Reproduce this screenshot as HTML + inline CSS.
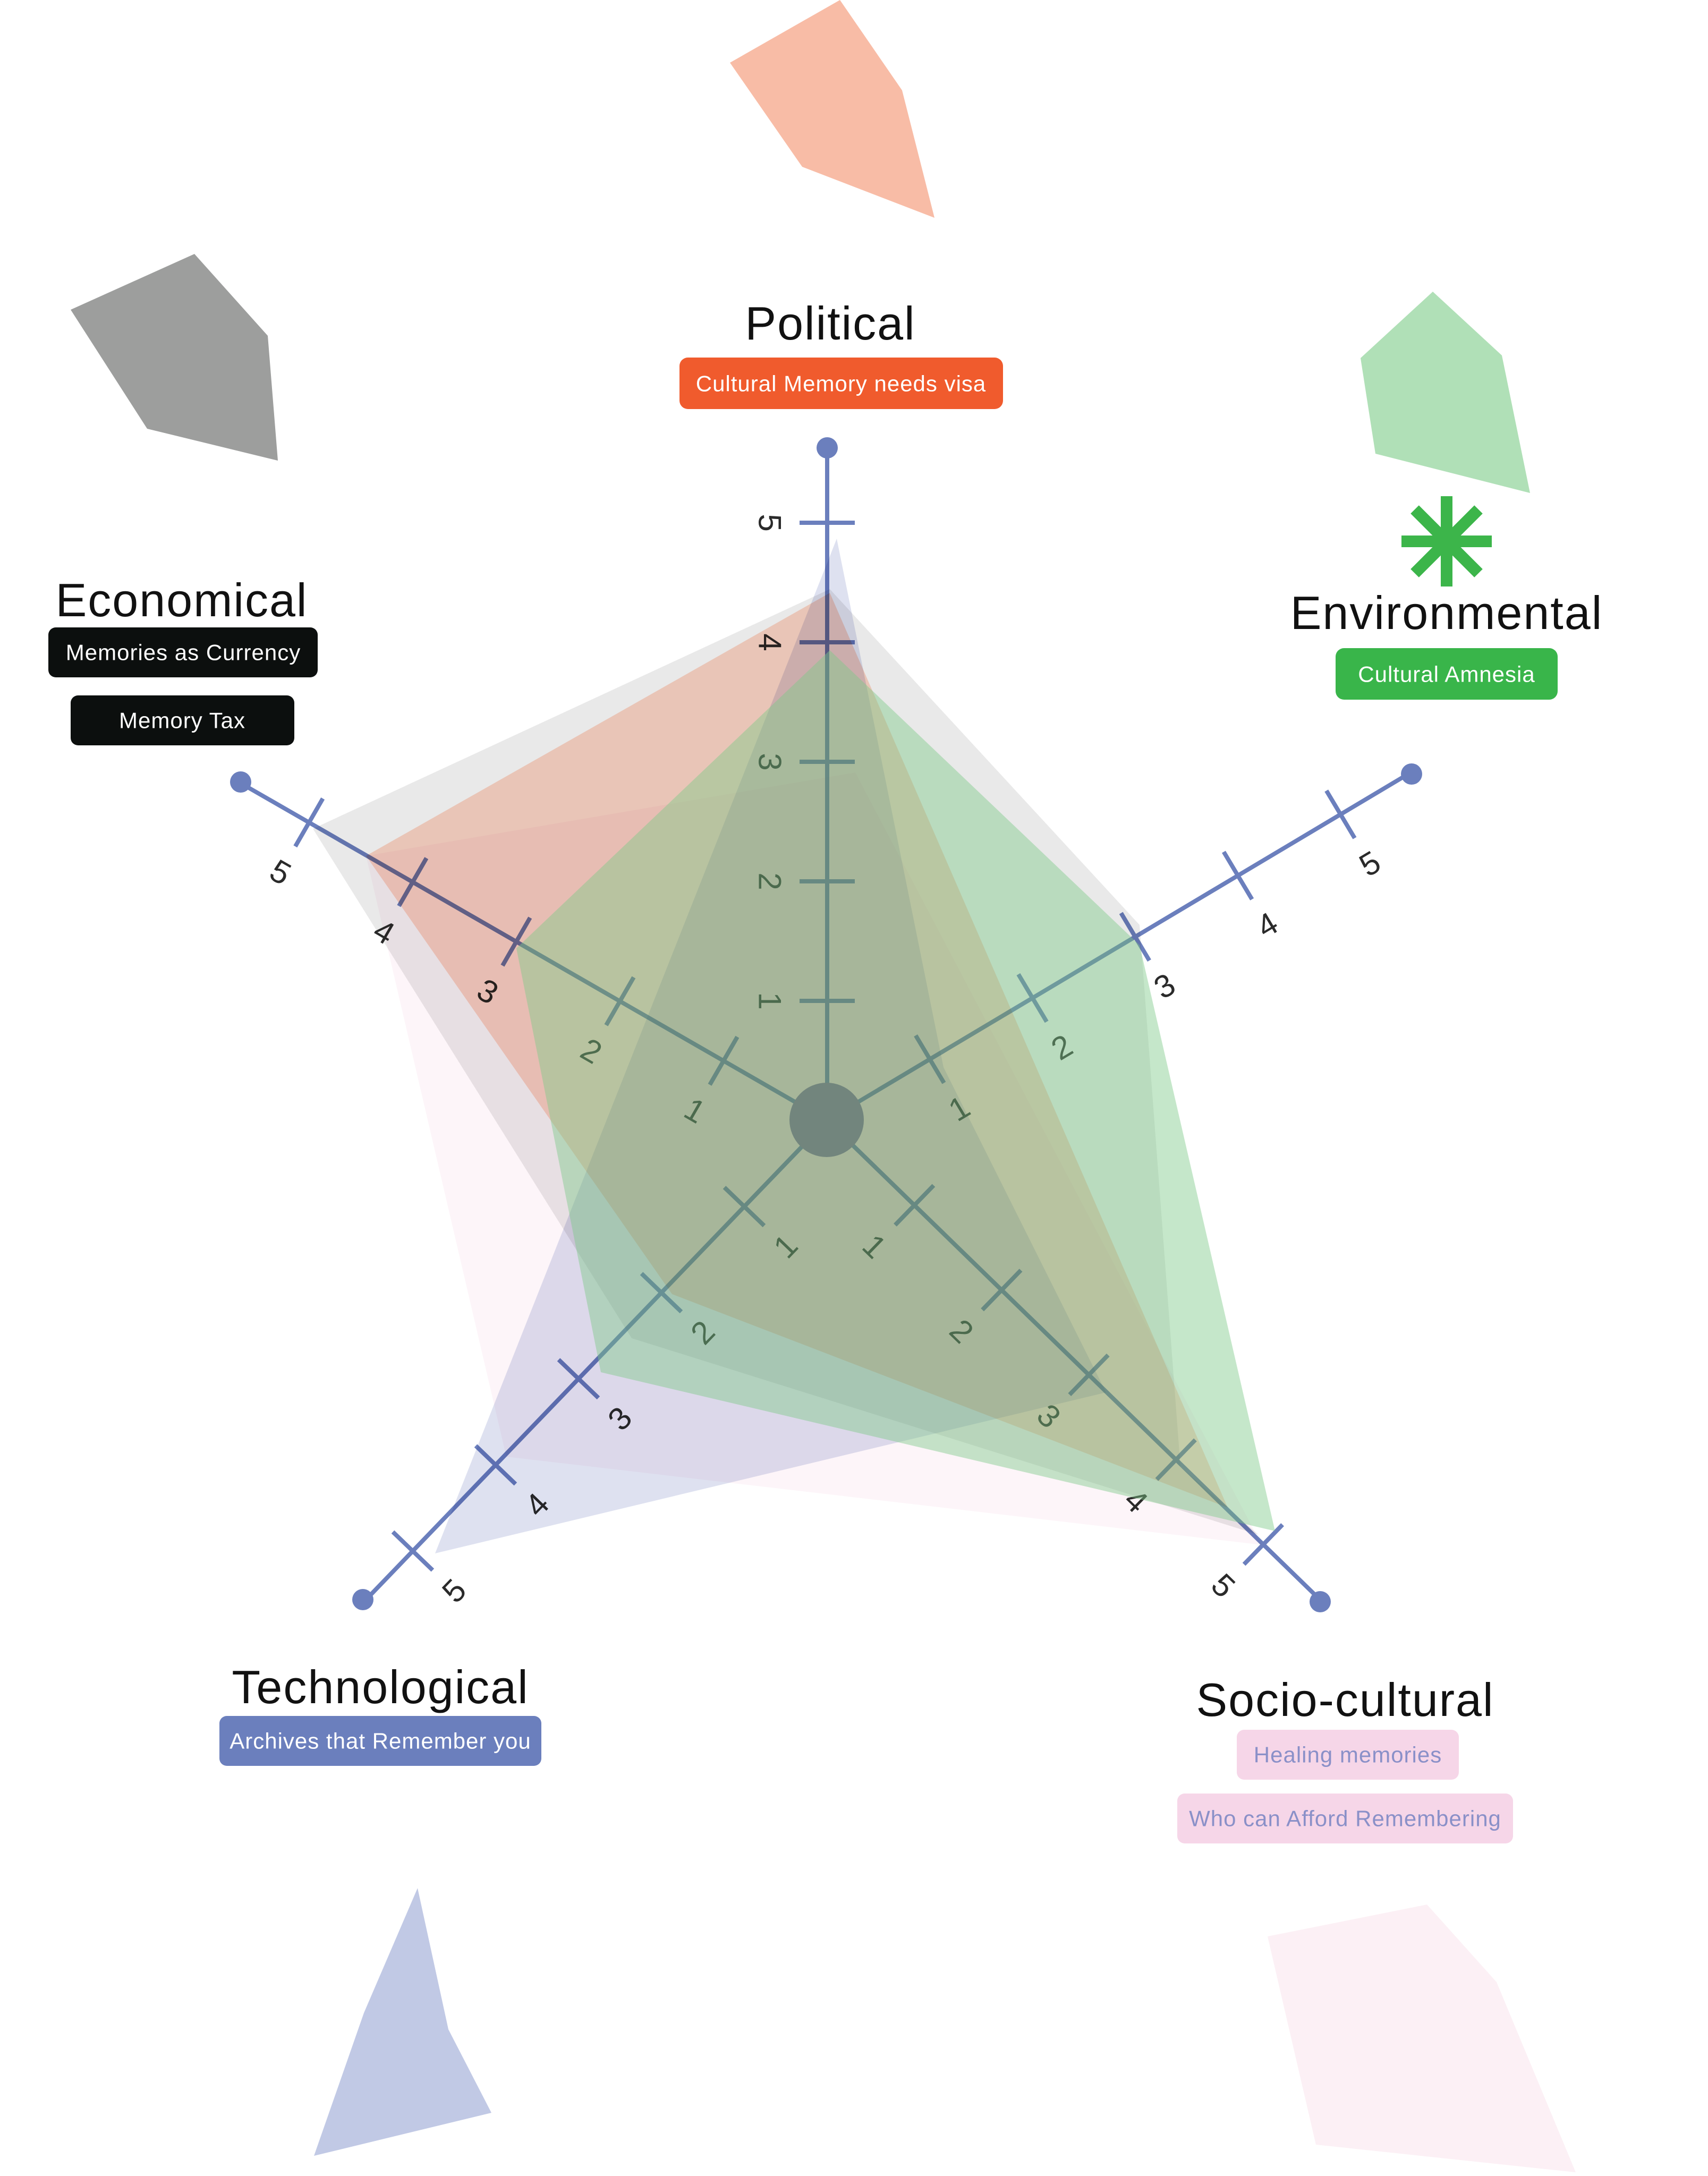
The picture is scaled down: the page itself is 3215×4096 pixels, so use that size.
<!DOCTYPE html>
<html><head><meta charset="utf-8"><style>
html,body{margin:0;padding:0;background:#fff}
svg{display:block}
.t{font-family:"Liberation Sans",sans-serif;fill:#111}
.n{font-family:"Liberation Sans",sans-serif;font-size:60px;fill:#2a2a2a;text-anchor:middle;dominant-baseline:central}
.b{font-family:"Liberation Sans",sans-serif;font-size:42px;fill:#fff;text-anchor:middle;dominant-baseline:central;letter-spacing:1px}
.p{mix-blend-mode:multiply}
</style></head><body>
<svg width="3215" height="4096" viewBox="0 0 3215 4096" xmlns="http://www.w3.org/2000/svg">
<polygon points="1374,118 1581,0 1698,170 1759,410 1510,314" fill="#f8bca6"/>
<polygon points="133,583 366,478 504,632 523,867 277,807" fill="#9d9e9d"/>
<polygon points="2561,674 2697,549 2827,669 2880,928 2589,854" fill="#b0e0b7"/>
<polygon points="786,3554 844,3820 925,3977 591,4058 685,3789" fill="#c1c9e5"/>
<polygon points="2386,3645 2686,3585 2817,3731 2966,4089 2477,4037" fill="#fcf0f5"/>
<g stroke="#3cb54a" stroke-width="22" transform="translate(2723,1019)">
<line x1="0" y1="-85" x2="0" y2="85"/>
<line x1="-85" y1="0" x2="85" y2="0"/>
<line x1="-60" y1="-60" x2="60" y2="60"/>
<line x1="60" y1="-60" x2="-60" y2="60"/>
</g>
<g stroke="#6b7fbd" stroke-width="8" fill="none">
<g transform="translate(1557,2109) rotate(-90)">
<line x1="0" y1="0" x2="1266" y2="0"/>
<line x1="225" y1="-52" x2="225" y2="52"/><line x1="450" y1="-52" x2="450" y2="52"/><line x1="675" y1="-52" x2="675" y2="52"/><line x1="900" y1="-52" x2="900" y2="52"/><line x1="1125" y1="-52" x2="1125" y2="52"/>
</g>
<g transform="translate(1557,2109) rotate(-30.8)">
<line x1="0" y1="0" x2="1280" y2="0"/>
<line x1="225" y1="-52" x2="225" y2="52"/><line x1="450" y1="-52" x2="450" y2="52"/><line x1="675" y1="-52" x2="675" y2="52"/><line x1="900" y1="-52" x2="900" y2="52"/><line x1="1125" y1="-52" x2="1125" y2="52"/>
</g>
<g transform="translate(1557,2109) rotate(44.2)">
<line x1="0" y1="0" x2="1297" y2="0"/>
<line x1="229" y1="-52" x2="229" y2="52"/><line x1="458" y1="-52" x2="458" y2="52"/><line x1="687" y1="-52" x2="687" y2="52"/><line x1="916" y1="-52" x2="916" y2="52"/><line x1="1145" y1="-52" x2="1145" y2="52"/>
</g>
<g transform="translate(1557,2109) rotate(209.9)">
<line x1="0" y1="0" x2="1276" y2="0"/>
<line x1="225" y1="-52" x2="225" y2="52"/><line x1="450" y1="-52" x2="450" y2="52"/><line x1="675" y1="-52" x2="675" y2="52"/><line x1="900" y1="-52" x2="900" y2="52"/><line x1="1125" y1="-52" x2="1125" y2="52"/>
</g>
<g transform="translate(1557,2109) rotate(133.9)">
<line x1="0" y1="0" x2="1258" y2="0"/>
<line x1="225" y1="-52" x2="225" y2="52"/><line x1="450" y1="-52" x2="450" y2="52"/><line x1="675" y1="-52" x2="675" y2="52"/><line x1="900" y1="-52" x2="900" y2="52"/><line x1="1125" y1="-52" x2="1125" y2="52"/>
</g>
</g>
<g fill="#6b7fbd">
<circle cx="1557" cy="843" r="20"/><circle cx="2657" cy="1457" r="20"/><circle cx="2485" cy="3015" r="20"/><circle cx="453" cy="1472" r="20"/><circle cx="683" cy="3011" r="20"/>
</g>
<g transform="translate(1557,2109) rotate(-90)">
<text class="n" x="225" y="-108" transform="rotate(180 225 -108)">1</text>
<text class="n" x="450" y="-108" transform="rotate(180 450 -108)">2</text>
<text class="n" x="675" y="-108" transform="rotate(180 675 -108)">3</text>
<text class="n" x="900" y="-108" transform="rotate(180 900 -108)">4</text>
<text class="n" x="1125" y="-108" transform="rotate(180 1125 -108)">5</text>
</g>
<g transform="translate(1557,2109) rotate(-30.8)">
<text class="n" x="225" y="108">1</text><text class="n" x="450" y="108">2</text><text class="n" x="675" y="108">3</text><text class="n" x="900" y="108">4</text><text class="n" x="1125" y="108">5</text>
</g>
<g transform="translate(1557,2109) rotate(44.2)">
<text class="n" x="229" y="108">1</text><text class="n" x="458" y="108">2</text><text class="n" x="687" y="108">3</text><text class="n" x="916" y="108">4</text><text class="n" x="1145" y="108">5</text>
</g>
<g transform="translate(1557,2109) rotate(209.9)">
<text class="n" x="225" y="-108" transform="rotate(180 225 -108)">1</text>
<text class="n" x="450" y="-108" transform="rotate(180 450 -108)">2</text>
<text class="n" x="675" y="-108" transform="rotate(180 675 -108)">3</text>
<text class="n" x="900" y="-108" transform="rotate(180 900 -108)">4</text>
<text class="n" x="1125" y="-108" transform="rotate(180 1125 -108)">5</text>
</g>
<g transform="translate(1557,2109) rotate(133.9)">
<text class="n" x="225" y="-108" transform="rotate(180 225 -108)">1</text>
<text class="n" x="450" y="-108" transform="rotate(180 450 -108)">2</text>
<text class="n" x="675" y="-108" transform="rotate(180 675 -108)">3</text>
<text class="n" x="900" y="-108" transform="rotate(180 900 -108)">4</text>
<text class="n" x="1125" y="-108" transform="rotate(180 1125 -108)">5</text>
</g>
<polygon class="p" opacity="0.8" points="1562,1109 2145,1741 2222,2761 2369,2889 1189,2519 589,1560" fill="#e4e4e4"/>
<polygon class="p" opacity="0.8" points="689,1611 1610,1454 2375,2908 953,2742" fill="#fdf3f8"/>
<polygon class="p" opacity="0.8" points="1575,1014 1776,2009 2082,2621 819,2924" fill="#d6daec"/>
<polygon class="p" opacity="0.7" points="1562,1116 2311,2838 1265,2436 689,1611" fill="#ffc8b2"/>
<polygon opacity="0.45" points="1562,1224 2145,1779 2400,2882 1131,2583 972,1785" fill="#7fc98a"/>
<circle cx="1556" cy="2108" r="70" fill="#72857d"/>
<g class="t" font-size="88" text-anchor="middle" letter-spacing="2">
<text x="1563" y="639">Political</text>
<text x="342" y="1160">Economical</text>
<text x="2723" y="1184">Environmental</text>
<text x="716" y="3206">Technological</text>
<text x="2532" y="3230">Socio-cultural</text>
</g>
<rect x="1279" y="673" width="609" height="97" rx="16" fill="#f05b2d"/>
<text class="b" x="1583" y="722">Cultural Memory needs visa</text>
<rect x="91" y="1181" width="507" height="94" rx="14" fill="#0c0f0e"/>
<text class="b" x="345" y="1228">Memories as Currency</text>
<rect x="133" y="1309" width="421" height="94" rx="14" fill="#0c0f0e"/>
<text class="b" x="343" y="1356">Memory Tax</text>
<rect x="2514" y="1220" width="418" height="97" rx="16" fill="#39b54a"/>
<text class="b" x="2723" y="1269">Cultural Amnesia</text>
<rect x="413" y="3230" width="606" height="94" rx="14" fill="#6b7fbd"/>
<text class="b" x="716" y="3277">Archives that Remember you</text>
<rect x="2328" y="3256" width="418" height="94" rx="14" fill="#f6d6e8"/>
<text class="b" x="2537" y="3303" style="fill:#8a90c8">Healing memories</text>
<rect x="2216" y="3376" width="632" height="94" rx="14" fill="#f6d6e8"/>
<text class="b" x="2532" y="3423" style="fill:#8a90c8">Who can Afford Remembering</text>
</svg>
</body></html>
